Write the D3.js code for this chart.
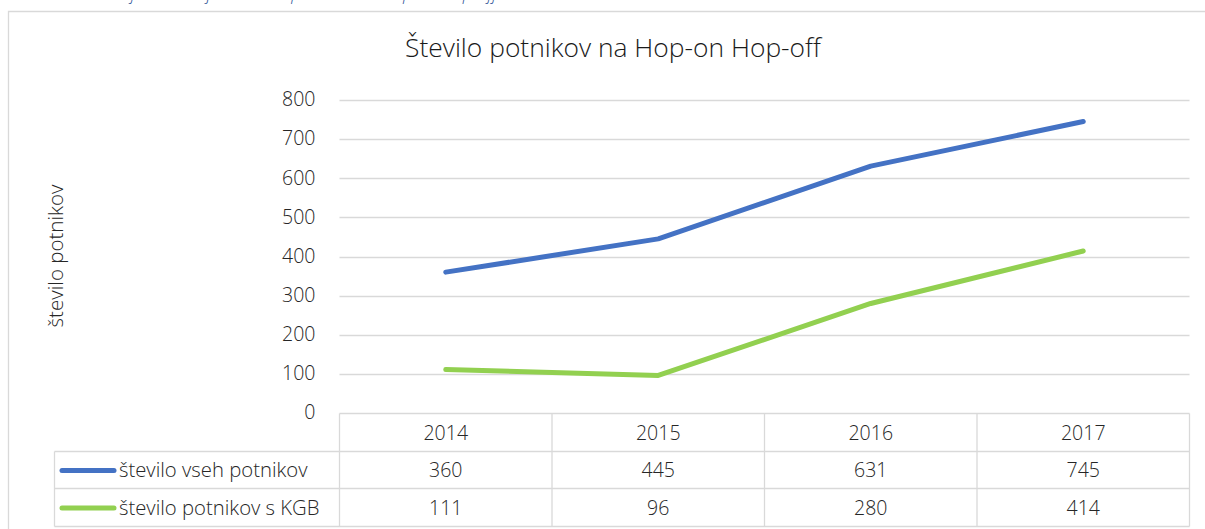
<!DOCTYPE html>
<html>
<head>
<meta charset="utf-8">
<script src="https://cdn.jsdelivr.net/npm/d3@7"></script>
<style>
  body { margin: 0; background: #fff; }
  svg { display: block; }
  text { font-family: "Open Sans", "Noto Sans", sans-serif; font-weight: 300; }
</style>
</head>
<body>
<svg id="chart" width="1205" height="529"></svg>
<script>
// Passenger counts on the Hop-on Hop-off line
const years = ["2014", "2015", "2016", "2017"];
const seriesNames = ["število vseh potnikov", "število potnikov s KGB"];
const allPassengers = [360, 445, 631, 745];
const kgbPassengers = [111, 96, 280, 414];
const yTicks = [0, 100, 200, 300, 400, 500, 600, 700, 800];
const seriesColors = ["#4472C4", "#92D050"];

const chartTitle = "Število potnikov na Hop-on Hop-off";
const yTitle = "število potnikov";
const captionText = "Graf 4: Primerjava števila potnikov na Hop-on Hop-off";

const series = seriesNames.map((name, i) => ({
  name,
  values: [allPassengers, kgbPassengers][i],
  color: seriesColors[i]
}));

const svg = d3.select("#chart");
const gridColor = "#d9d9d9";
const textColor = "#262626";

const plot = { left: 339.5, right: 1189.5, top: 100, bottom: 413 };
const legendLeft = 54.5;
const rowH = 37.7;

const x = d3.scaleBand().domain(years).range([plot.left, plot.right]);
const y = d3.scaleLinear().domain([0, 800]).range([plot.bottom, plot.top]);

// Caption line of the surrounding document, cut by the top edge
const cap = svg.append("text")
  .attr("y", 0)
  .attr("font-style", "italic")
  .attr("font-weight", 400)
  .attr("font-size", 17)
  .attr("fill", "#2F5597")
  .text(captionText);
const capW = cap.node().getComputedTextLength();
cap.attr("x", 497 - capW);

// Chart frame
svg.append("path")
  .attr("d", "M8.5,529 V11.5 H1205")
  .attr("fill", "none")
  .attr("stroke", gridColor)
  .attr("stroke-width", 1.3);

// Title
svg.append("text")
  .attr("x", 613)
  .attr("y", 57)
  .attr("text-anchor", "middle")
  .attr("font-size", 26.4)
  .attr("fill", "#1a1a1a")
  .text(chartTitle);

// Horizontal gridlines
svg.append("g")
  .selectAll("line")
  .data(yTicks.filter(d => d > 0))
  .join("line")
  .attr("x1", plot.left)
  .attr("x2", plot.right)
  .attr("y1", d => Math.round(y(d)) + 0.5)
  .attr("y2", d => Math.round(y(d)) + 0.5)
  .attr("stroke", gridColor)
  .attr("stroke-width", 1.3);

// Value axis labels
const yAxis = svg.append("g")
  .attr("transform", `translate(${plot.left},0)`)
  .call(d3.axisLeft(y).tickValues(yTicks).tickSize(0).tickPadding(24));
yAxis.select(".domain").remove();
yAxis.selectAll("text")
  .attr("font-family", "Open Sans, Noto Sans, sans-serif")
  .attr("font-size", 19.5)
  .attr("fill", textColor)
  .attr("dy", "0.3em");

// Value axis title
svg.append("text")
  .attr("transform", "translate(63,256) rotate(-90)")
  .attr("text-anchor", "middle")
  .attr("font-size", 20.5)
  .attr("fill", textColor)
  .text(yTitle);

// Data table grid
const tableTop = plot.bottom;
const rowsY = [tableTop, tableTop + rowH, tableTop + 2 * rowH, tableTop + 3 * rowH].map(v => Math.round(v) + 0.5);
const table = svg.append("g").attr("stroke", gridColor).attr("stroke-width", 1.3).attr("fill", "none");
table.append("line").attr("x1", plot.left).attr("x2", plot.right).attr("y1", rowsY[0]).attr("y2", rowsY[0]);
[1, 2, 3].forEach(r => {
  table.append("line").attr("x1", legendLeft).attr("x2", plot.right).attr("y1", rowsY[r]).attr("y2", rowsY[r]);
});
table.append("line").attr("x1", legendLeft).attr("x2", legendLeft).attr("y1", rowsY[1]).attr("y2", rowsY[3]);
const edges = years.map(yr => x(yr)).concat([plot.right]);
edges.forEach(ex => {
  table.append("line").attr("x1", ex).attr("x2", ex).attr("y1", rowsY[0]).attr("y2", rowsY[3]);
});

// Category labels in the header row
svg.append("g")
  .selectAll("text")
  .data(years)
  .join("text")
  .attr("x", d => x(d) + x.bandwidth() / 2)
  .attr("y", (rowsY[0] + rowsY[1]) / 2 + 7)
  .attr("text-anchor", "middle")
  .attr("font-size", 19.5)
  .attr("fill", textColor)
  .text(d => d);

// Series rows: legend key and values
series.forEach((s, i) => {
  const mid = (rowsY[i + 1] + rowsY[i + 2]) / 2;
  svg.append("line")
    .attr("x1", 62).attr("x2", 114)
    .attr("y1", mid + 0.5).attr("y2", mid + 0.5)
    .attr("stroke", s.color)
    .attr("stroke-width", 5)
    .attr("stroke-linecap", "round");
  svg.append("text")
    .attr("x", 119)
    .attr("y", mid + 7)
    .attr("font-size", 20.3)
    .attr("fill", textColor)
    .text(s.name);
  svg.append("g")
    .selectAll("text")
    .data(s.values)
    .join("text")
    .attr("x", (d, j) => x(years[j]) + x.bandwidth() / 2)
    .attr("y", mid + 7)
    .attr("text-anchor", "middle")
    .attr("font-size", 19.5)
    .attr("fill", textColor)
    .text(d => d);
});

// Lines
const line = d3.line()
  .x((d, j) => x(years[j]) + x.bandwidth() / 2)
  .y(d => y(d));
svg.append("g")
  .selectAll("path")
  .data(series)
  .join("path")
  .attr("d", s => line(s.values))
  .attr("fill", "none")
  .attr("stroke", s => s.color)
  .attr("stroke-width", 5)
  .attr("stroke-linecap", "round")
  .attr("stroke-linejoin", "round");
</script>
</body>
</html>
